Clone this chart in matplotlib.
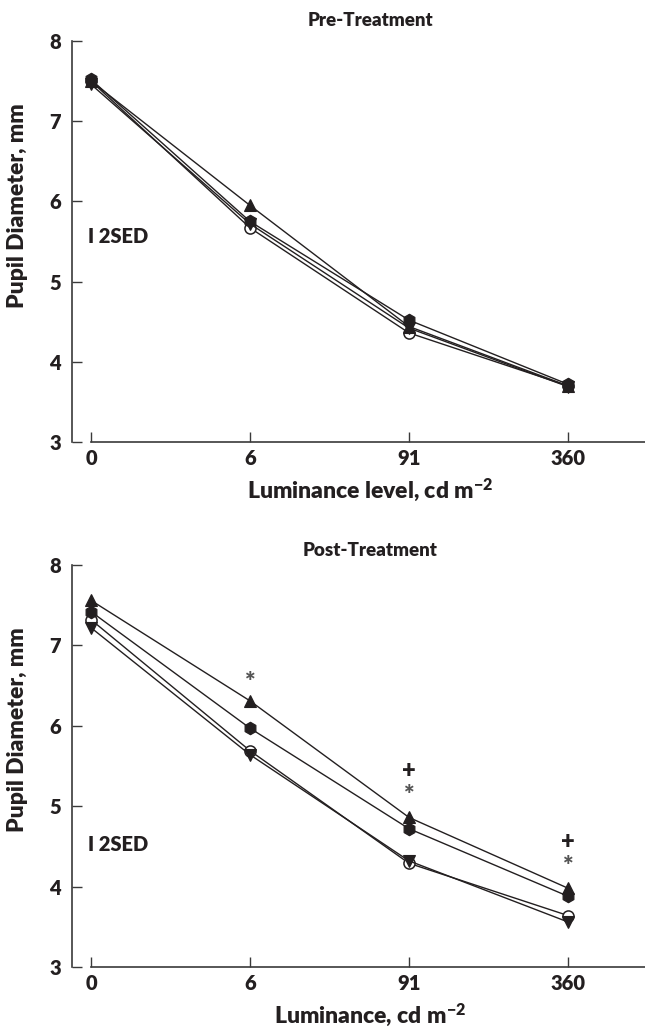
import matplotlib
matplotlib.use("Agg")
import matplotlib.pyplot as plt

# ---- data ----
lum_labels = ["0", "6", "91", "360"]
x_pos = [0, 1, 2, 3]

pre_open_circle = [7.50, 5.67, 4.36, 3.70]
pre_filled_hex = [7.52, 5.75, 4.52, 3.72]
pre_tri_up = [7.50, 5.95, 4.44, 3.70]
pre_tri_down = [7.46, 5.72, 4.42, 3.69]

post_open_circle = [7.32, 5.69, 4.29, 3.64]
post_filled_hex = [7.42, 5.97, 4.72, 3.88]
post_tri_up = [7.56, 6.31, 4.86, 3.98]
post_tri_down = [7.22, 5.64, 4.32, 3.56]

# significance marks (post-treatment): x index, y value, symbol
sig_x = [1, 2, 2, 3, 3]
sig_y = [6.55, 5.14, 5.44, 4.25, 4.55]
sig_sym = ["*", "*", "+", "*", "+"]

y_ticks = [3, 4, 5, 6, 7, 8]

# ---- style ----
INK = "#231f20"
AX = "#3a3a3a"
WGT = "heavy"
FONT = ["Lato", "DejaVu Sans"]
plt.rcParams["font.family"] = FONT
plt.rcParams["font.weight"] = WGT
plt.rcParams["mathtext.fontset"] = "custom"
plt.rcParams["mathtext.rm"] = "Lato:heavy"
plt.rcParams["mathtext.bf"] = "Lato:heavy"
plt.rcParams["mathtext.default"] = "rm"

fig = plt.figure(figsize=(6.45, 10.35), dpi=100)

W, H = 645, 1035
left_px, right_px = 72, 645
panels = [
    dict(top=41, bottom=442, title="Pre-Treatment", title_gap=20,
         xlabel=r"Luminance level, cd m$^{-2}$",
         series=[pre_open_circle, pre_filled_hex, pre_tri_up, pre_tri_down],
         sed_y=5.56, sig=False),
    dict(top=565, bottom=967, title="Post-Treatment", title_gap=15,
         xlabel=r"Luminance, cd m$^{-2}$",
         series=[post_open_circle, post_filled_hex, post_tri_up, post_tri_down],
         sed_y=4.52, sig=True),
]

styles = [
    dict(marker="o", mfc="white", mec=INK, ms=8, mew=1.1),
    dict(marker="h", mfc=INK, mec=INK, ms=9, mew=0.8),
    dict(marker="^", mfc=INK, mec=INK, ms=9, mew=0.8),
    dict(marker="v", mfc=INK, mec=INK, ms=9, mew=0.8),
]

unit = 159.0
x_left = -(91 - left_px) / unit
x_right = x_left + (right_px - left_px) / unit

for p in panels:
    ax = fig.add_axes([left_px / W, 1 - p["bottom"] / H,
                       (right_px - left_px) / W, (p["bottom"] - p["top"]) / H])
    order = [3, 0, 2, 1]
    for i in order:
        ax.plot(x_pos, p["series"][i], color=INK, lw=1.0, clip_on=False,
                zorder=3 + i, **styles[i])
    ax.set_xlim(x_left, x_right)
    ax.set_ylim(3, 8)
    ax.set_xticks(x_pos)
    ax.set_xticklabels(lum_labels)
    ax.set_yticks(y_ticks)
    ax.set_yticklabels([str(t) for t in y_ticks])
    for s in ["top", "right"]:
        ax.spines[s].set_visible(False)
    ax.spines["left"].set_color(AX)
    ax.spines["bottom"].set_color(AX)
    ax.spines["left"].set_linewidth(1.2)
    ax.spines["bottom"].set_linewidth(1.2)
    ax.spines["bottom"].set_bounds(0, x_right)
    ax.tick_params(axis="both", direction="in", length=7, width=1.0,
                   color=AX, labelcolor=INK, labelsize=14.5)
    ax.tick_params(axis="y", pad=8)
    ax.tick_params(axis="x", pad=5)
    for lab in ax.get_xticklabels() + ax.get_yticklabels():
        lab.set_fontweight(WGT)
    ax.set_ylabel("Pupil Diameter, mm", fontsize=16.5, fontweight=WGT, color=INK)
    ax.yaxis.set_label_coords(-0.076, 0.59)
    ax.set_xlabel(p["xlabel"], fontsize=16.5, fontweight=WGT, color=INK)
    ax.xaxis.set_label_coords(0.52, -0.085)
    ax.text(0.52, 1.0 + p["title_gap"] / (p["bottom"] - p["top"]),
            p["title"], transform=ax.transAxes, ha="center", va="center",
            fontsize=13.5, fontweight=WGT, color=INK)
    ax.text(-0.02, p["sed_y"], "I 2SED", ha="left", va="center",
            fontsize=14.5, fontweight=WGT, color=INK)
    if p["sig"]:
        for sx, sy, sym in zip(sig_x, sig_y, sig_sym):
            if sym == "*":
                ax.text(sx, sy, "*", ha="center", va="center", fontsize=18,
                        color="#555555", fontweight=WGT)
            else:
                ax.text(sx, sy, "+", ha="center", va="center", fontsize=17,
                        color=INK, fontweight=WGT)

fig.savefig("out.png", dpi=100)
